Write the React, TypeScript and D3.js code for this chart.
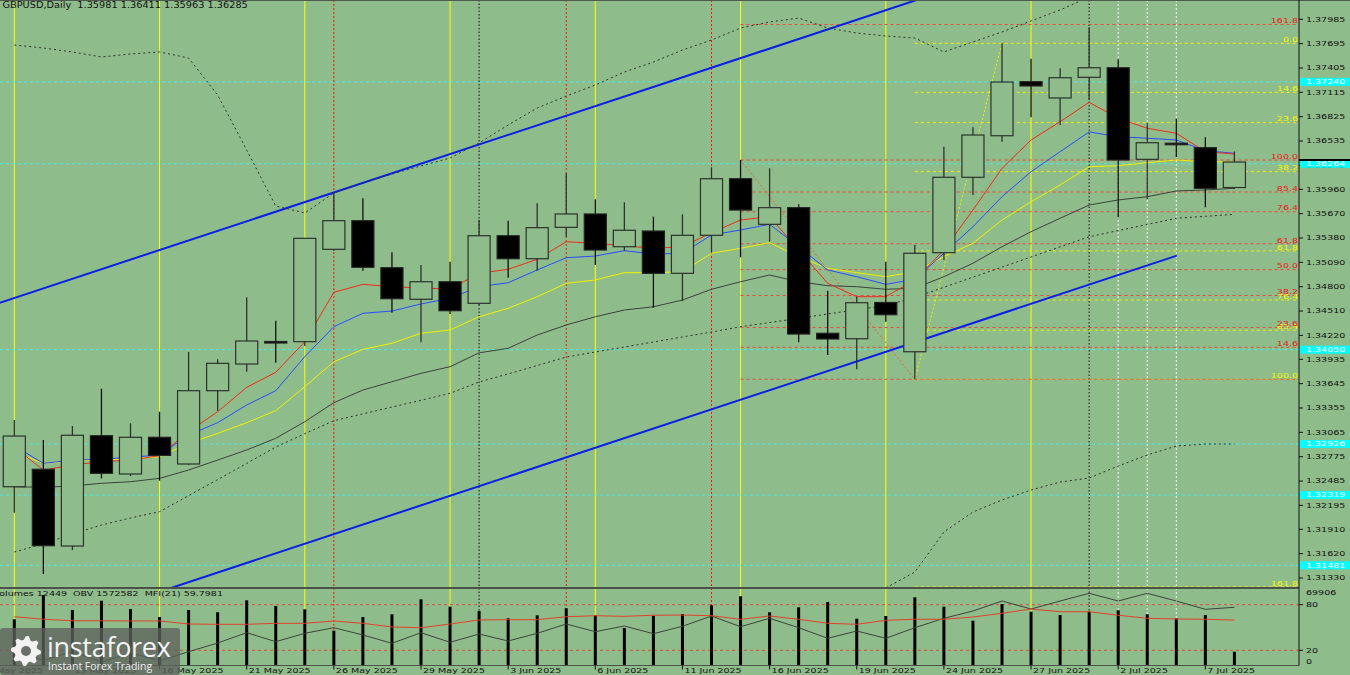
import React from "react";
import * as d3 from "d3";

// ---------------- data ----------------
const dates = ["9 May","12 May","13 May","14 May","15 May","16 May","19 May","20 May","21 May","22 May","23 May","26 May","27 May","28 May","29 May","30 May","2 Jun","3 Jun","4 Jun","5 Jun","6 Jun","9 Jun","10 Jun","11 Jun","12 Jun","13 Jun","16 Jun","17 Jun","18 Jun","19 Jun","20 Jun","23 Jun","24 Jun","25 Jun","26 Jun","27 Jun","30 Jun","1 Jul","2 Jul","3 Jul","4 Jul","7 Jul","8 Jul"];
const axisDateLabels = ["8 May 2025","13 May 2025","16 May 2025","21 May 2025","26 May 2025","29 May 2025","3 Jun 2025","6 Jun 2025","11 Jun 2025","16 Jun 2025","19 Jun 2025","24 Jun 2025","27 Jun 2025","2 Jul 2025","7 Jul 2025"];

const open = [1.32417,1.32625,1.31711,1.33025,1.32569,1.33006,1.32688,1.33561,1.33879,1.34147,1.34145,1.35245,1.35586,1.35026,1.34650,1.34859,1.34602,1.35407,1.35133,1.35507,1.35666,1.35276,1.35463,1.34959,1.35412,1.36086,1.35543,1.35741,1.34245,1.34180,1.34612,1.34025,1.35205,1.36103,1.36598,1.37242,1.37048,1.37294,1.37408,1.36317,1.36509,1.36456,1.35981];
const high = [1.33212,1.32974,1.33140,1.33585,1.33173,1.33311,1.34022,1.33935,1.34674,1.34395,1.35380,1.35920,1.35853,1.35210,1.35058,1.35098,1.35594,1.35586,1.35793,1.36151,1.35841,1.35805,1.35634,1.35662,1.36222,1.36309,1.36210,1.35781,1.34752,1.34681,1.35098,1.35297,1.36467,1.36699,1.37699,1.37516,1.37401,1.37890,1.37509,1.36746,1.36801,1.36579,1.36411];
const low = [1.32108,1.31377,1.31663,1.32517,1.32545,1.32489,1.32676,1.33323,1.33787,1.33894,1.34093,1.35229,1.34990,1.34490,1.34137,1.34475,1.34582,1.34907,1.34990,1.35395,1.35058,1.35229,1.34550,1.34629,1.35210,1.35150,1.35336,1.34137,1.33986,1.33816,1.34383,1.33697,1.35118,1.35892,1.36527,1.36818,1.36726,1.37024,1.35626,1.35844,1.36341,1.35746,1.35963];
const close = [1.33021,1.31715,1.33030,1.32577,1.33006,1.32791,1.33561,1.33887,1.34153,1.34142,1.35376,1.35586,1.35031,1.34657,1.34859,1.34514,1.35407,1.35133,1.35503,1.35666,1.35237,1.35472,1.34959,1.35412,1.36086,1.35713,1.35741,1.34236,1.34177,1.34609,1.34466,1.35198,1.36103,1.36607,1.37238,1.37191,1.37289,1.37408,1.36309,1.36515,1.36505,1.35972,1.36285];

const volume = [41677,63598,50067,58456,50969,43752,50067,47992,58817,53675,50698,31393,43752,46188,59719,53043,49164,42579,45285,51600,45285,33829,44925,46458,54306,62425,47992,52502,57283,42218,44654,61523,53043,40414,55479,48533,45556,48533,49796,46188,42579,45556,12449];

const maRed = [1.32890,1.32616,1.32676,1.32715,1.32735,1.32787,1.33073,1.33311,1.33601,1.33780,1.34145,1.34733,1.34828,1.34800,1.34784,1.34772,1.34959,1.35007,1.35126,1.35336,1.35317,1.35288,1.35257,1.35276,1.35443,1.35594,1.35634,1.35237,1.34840,1.34681,1.34681,1.34880,1.35237,1.35713,1.36210,1.36547,1.36765,1.36996,1.36806,1.36687,1.36627,1.36408,1.36380];
const maBlue = [1.32902,1.32696,1.32735,1.32744,1.32768,1.32795,1.33033,1.33180,1.33391,1.33561,1.33966,1.34323,1.34483,1.34510,1.34594,1.34662,1.34800,1.34847,1.34999,1.35145,1.35165,1.35229,1.35189,1.35198,1.35416,1.35475,1.35543,1.35276,1.34999,1.34919,1.34828,1.34888,1.35198,1.35514,1.35872,1.36170,1.36408,1.36643,1.36587,1.36568,1.36547,1.36420,1.36389];
const maYellow = [1.32831,1.32696,1.32727,1.32735,1.32751,1.32775,1.32934,1.33053,1.33180,1.33323,1.33609,1.33906,1.34054,1.34126,1.34245,1.34284,1.34442,1.34542,1.34681,1.34840,1.34880,1.34967,1.34967,1.34978,1.35198,1.35257,1.35324,1.35157,1.35019,1.34967,1.34919,1.34978,1.35157,1.35317,1.35594,1.35812,1.36011,1.36229,1.36241,1.36277,1.36309,1.36289,1.36285];
const maGray = [1.32417,1.32410,1.32426,1.32458,1.32477,1.32517,1.32616,1.32735,1.32855,1.32994,1.33192,1.33418,1.33569,1.33668,1.33768,1.33847,1.34012,1.34066,1.34224,1.34344,1.34442,1.34522,1.34561,1.34641,1.34769,1.34859,1.34939,1.34859,1.34812,1.34800,1.34769,1.34781,1.34919,1.35079,1.35276,1.35455,1.35615,1.35773,1.35833,1.35872,1.35940,1.35952,1.35972];
// dotted envelope (starts at first candle)
const bandUpper = [1.37679,1.37643,1.37596,1.37536,1.37572,1.37596,1.37524,1.37083,1.36428,1.35761,1.35678,1.35916,1.36035,1.36142,1.36238,1.36333,1.36512,1.36726,1.36928,1.37071,1.37202,1.37357,1.37476,1.37619,1.37738,1.37881,1.37953,1.38000,1.37881,1.37822,1.37786,1.37762,1.37596,1.37715,1.37834,1.37965,1.38096,1.38251];
const bandLower = [1.31640,1.31735,1.31854,1.31961,1.32045,1.32120,1.32311,1.32502,1.32695,1.32890,1.33049,1.33204,1.33285,1.33366,1.33447,1.33530,1.33665,1.33761,1.33861,1.33962,1.34022,1.34081,1.34141,1.34201,1.34260,1.34323,1.34373,1.34423,1.34475,1.34525,1.34576,1.34672,1.34793,1.34913,1.35033,1.35154,1.35274,1.35395,1.35468,1.35541,1.35615,1.35638,1.35662];
// wide lower envelope, starts at candle 30
const bandLowerWideStart = 30;
const bandLowerWide = [1.31211,1.31401,1.31878,1.32116,1.32259,1.32378,1.32473,1.32521,1.32664,1.32795,1.32902,1.32926,1.32926];

const mfi = [64.2,60.8,58.9,58.9,58.6,58.6,54.6,54.2,54.2,55.5,55.5,58.6,55.5,50.7,49.7,54.6,59.9,60.3,60.3,64.2,65.5,64.7,66.1,66.4,65.5,60.8,65.1,60.8,55.5,54.2,59.5,60.8,60.8,63.8,68.7,74.3,70.8,70.8,66.1,62.1,61.2,60.8,59.8];
const obv = [1343200,1279400,1329500,1271200,1322300,1278300,1328400,1376200,1432900,1383400,1429600,1460400,1420200,1374600,1432900,1380100,1425700,1387200,1429600,1480700,1438400,1469700,1427400,1468100,1524700,1465900,1512100,1460400,1402100,1442200,1402100,1460400,1512100,1552200,1607200,1563200,1607200,1649600,1607200,1649600,1607200,1561600,1572582];

const priceTicks = ["1.37985","1.37695","1.37405","1.37115","1.36825","1.36535","1.36245","1.35960","1.35670","1.35380","1.35090","1.34800","1.34510","1.34220","1.33935","1.33645","1.33355","1.33065","1.32775","1.32485","1.32195","1.31910","1.31620","1.31330"];
const markedLevels = ["1.37240","1.36264","1.34050","1.32926","1.32319","1.31481"];

const redFibLevels = [161.8,100,85.4,76.4,61.8,50,38.2,23.6,14.6,0];
const yellowFibLevels = [0,14.6,23.6,38.2,61.8,76.4,85.4,100,161.8];
const redFib = { from: 25, to: 31, high: 1.36309, low: 1.33697 };
const yellowFib = { from: 31, to: 34, low: 1.33697, high: 1.37699 };

const yellowVLines = [0,5,10,15,20,25,30,35];
const redVLines = [11,19,24];
const blackVLines = [16,37];
const whiteVLines = [38,39,40];

const channelUpper: [number, number][] = [[-1,1.34551],[32,1.38322]];
const channelLower: [number, number][] = [[5,1.31166],[40.02,1.35170]];
const bidPrice = 1.3631;

const header = "GBPUSD,Daily  1.35981 1.36411 1.35963 1.36285";
const indHeader = "Volumes 12449  OBV 1572582  MFI(21) 59.7981";
const volMax = 69906;
const mfiLevels = [80, 20];

// ---------------- layout ----------------
const W = 1350, H = 675;
const AX = 1299;
const MAIN_B = 587;
const IND_T = 589.5, IND_B = 665.5;
const BG = "#8FBC8B";
const FONT = "DejaVu Sans, Verdana, sans-serif";

function Txt({ x, y, children, anchor = "start", fill = "#111", size = 7.8 }: any) {
  return (
    <text transform={`translate(${x},${y}) scale(1.22,1)`} fontSize={size} fill={fill}
      textAnchor={anchor} dominantBaseline="middle" fontFamily={FONT} style={{ whiteSpace: "pre" }}>
      {children}
    </text>
  );
}

export default function App() {
  const n = close.length;
  const x = d3.scaleLinear().domain([0, n - 1]).range([14.3, 1234.4]);
  const y = d3.scaleLinear().domain([1.3133, 1.37985]).range([578, 19.3]);
  const yv = d3.scaleLinear().domain([0, volMax]).range([IND_B, 588]);
  const ym = d3.scaleLinear().domain([0, 100]).range([IND_B, IND_T]);
  const yo = d3.scaleLinear().domain([1252500, 1670500]).range([IND_B, IND_T]);
  const step = x(1) - x(0);
  const bw = step * 0.76;

  const mkLine = (vals: number[], start = 0, ys = y) =>
    d3.line<number>().x((_, i) => x(i + start)).y((d) => ys(d))(vals) || "";
  const segLine = (pts: [number, number][]) =>
    d3.line<[number, number]>().x((d) => x(d[0])).y((d) => y(d[1]))(pts) || "";

  // gear for logo
  const gearPts: [number, number][] = [];
  for (let k = 0; k < 32; k++) {
    const a = (k / 32) * Math.PI * 2;
    const r = Math.floor(k / 2) % 2 === 0 ? 15 : 11.5;
    gearPts.push([26 + r * Math.cos(a), 651 + r * Math.sin(a)]);
  }
  const gearPath = d3.line()(gearPts) + "Z";

  return (
    <svg width={W} height={H} style={{ position: "absolute", left: 0, top: 0, display: "block" }}>
      <defs>
        <clipPath id="clipMain"><rect x={0} y={0} width={AX} height={MAIN_B} /></clipPath>
        <clipPath id="clipInd"><rect x={0} y={IND_T - 2} width={AX} height={IND_B - IND_T + 2} /></clipPath>
      </defs>
      <rect x={0} y={0} width={W} height={H} fill={BG} />

      {/* vertical marker lines (full height) */}
      {yellowVLines.map((i) => (
        <line key={"yv" + i} x1={x(i)} x2={x(i)} y1={0} y2={IND_B} stroke="#ffff00" strokeWidth={1} />
      ))}
      {redVLines.map((i) => (
        <line key={"rv" + i} x1={x(i)} x2={x(i)} y1={0} y2={IND_B} stroke="#ff1010" strokeWidth={1} strokeDasharray="2 2" />
      ))}
      {blackVLines.map((i) => (
        <line key={"bv" + i} x1={x(i)} x2={x(i)} y1={0} y2={IND_B} stroke="#101010" strokeWidth={1} strokeDasharray="1.5 2" />
      ))}
      {whiteVLines.map((i) => (
        <line key={"wv" + i} x1={x(i)} x2={x(i)} y1={0} y2={IND_B} stroke="#f4f4f4" strokeWidth={1} strokeDasharray="2 2" />
      ))}

      <g clipPath="url(#clipMain)">
        {/* cyan marked levels */}
        {markedLevels.map((s) => (
          <line key={"cl" + s} x1={0} x2={AX} y1={y(+s)} y2={y(+s)} stroke="#40f0f0" strokeWidth={1} strokeDasharray="3 3" />
        ))}
        {/* yellow fib */}
        {yellowFibLevels.map((l) => {
          const p = yellowFib.high - ((yellowFib.high - yellowFib.low) * l) / 100;
          return <line key={"yf" + l} x1={x(yellowFib.from)} x2={AX} y1={y(p)} y2={y(p)} stroke="#f0f000" strokeWidth={1} strokeDasharray="3 3" />;
        })}
        {/* red fib */}
        {redFibLevels.map((l) => {
          const p = redFib.low + ((redFib.high - redFib.low) * l) / 100;
          return <line key={"rf" + l} x1={x(redFib.from)} x2={AX} y1={y(p)} y2={y(p)} stroke="#e8483a" strokeWidth={1} strokeDasharray="3 3" />;
        })}
        {/* fib diagonals */}
        <line x1={x(redFib.from)} y1={y(redFib.high)} x2={x(redFib.to)} y2={y(redFib.low)} stroke="#e8603a" strokeWidth={1} strokeDasharray="2 2" />
        <line x1={x(yellowFib.from)} y1={y(yellowFib.low)} x2={x(yellowFib.to)} y2={y(yellowFib.high)} stroke="#f0f000" strokeWidth={1} strokeDasharray="2 2" />

        {/* channel */}
        <path d={segLine(channelUpper)} stroke="#0a1ee6" strokeWidth={2} fill="none" />
        <path d={segLine(channelLower)} stroke="#0a1ee6" strokeWidth={2} fill="none" />

        {/* envelopes */}
        <path d={mkLine(bandUpper)} stroke="#2a322a" strokeWidth={1} fill="none" strokeDasharray="2 3" />
        <path d={mkLine(bandLower)} stroke="#2a322a" strokeWidth={1} fill="none" strokeDasharray="2 3" />
        <path d={mkLine(bandLowerWide, bandLowerWideStart)} stroke="#2a322a" strokeWidth={1} fill="none" strokeDasharray="2 3" />

        {/* moving averages */}
        <path d={mkLine(maGray)} stroke="#39433a" strokeWidth={1} fill="none" />
        <path d={mkLine(maYellow)} stroke="#f2f200" strokeWidth={1} fill="none" />
        <path d={mkLine(maBlue)} stroke="#2a4cff" strokeWidth={1} fill="none" />
        <path d={mkLine(maRed)} stroke="#f02a1a" strokeWidth={1} fill="none" />

        {/* candles */}
        {close.map((c, i) => {
          const o = open[i];
          const up = c >= o;
          const top = y(Math.max(o, c));
          const bot = y(Math.min(o, c));
          const h = Math.max(bot - top, 1.5);
          return (
            <g key={"c" + i}>
              <line x1={x(i)} x2={x(i)} y1={y(high[i])} y2={y(low[i])} stroke={up ? "#2c322c" : "#111"} strokeWidth={1.3} />
              <rect x={x(i) - bw / 2} y={top} width={bw} height={h}
                fill={up ? BG : "#000"} stroke={up ? "#2c322c" : "#222"} strokeWidth={1.2} />
            </g>
          );
        })}
      </g>

      {/* indicator panel */}
      <g clipPath="url(#clipInd)">
        {mfiLevels.map((l) => (
          <line key={"ml" + l} x1={0} x2={AX} y1={ym(l)} y2={ym(l)} stroke="#e04a3a" strokeWidth={1} strokeDasharray="3 3" />
        ))}
        {volume.map((v, i) => (
          <rect key={"v" + i} x={x(i) - 1.5} y={yv(v)} width={3} height={yv(0) - yv(v)} fill="#000" />
        ))}
        <path d={mkLine(obv, 0, yo)} stroke="#3a453a" strokeWidth={1} fill="none" />
        <path d={mkLine(mfi, 0, ym)} stroke="#e0402a" strokeWidth={1} fill="none" />
      </g>

      {/* borders */}
      <line x1={0} x2={W} y1={0.5} y2={0.5} stroke="#505850" strokeWidth={1} />
      <line x1={0} x2={AX} y1={588} y2={588} stroke="#4a524a" strokeWidth={2} />
      <line x1={0} x2={AX} y1={IND_B} y2={IND_B} stroke="#4a524a" strokeWidth={1} />
      <line x1={AX} x2={AX} y1={0} y2={IND_B} stroke="#111" strokeWidth={1} />

      {/* price axis labels */}
      {priceTicks.map((s) => (
        <g key={"pt" + s}>
          <line x1={AX} x2={AX + 4} y1={y(+s)} y2={y(+s)} stroke="#111" />
          <Txt x={1306} y={y(+s)}>{s}</Txt>
        </g>
      ))}
      {markedLevels.map((s) => (
        <g key={"ml" + s}>
          <rect x={1300} y={y(+s) - 4} width={50} height={8} fill="#00ffff" />
          <Txt x={1306} y={y(+s)} fill="#ffffff">{s}</Txt>
        </g>
      ))}
      <line x1={AX} x2={W} y1={y(bidPrice)} y2={y(bidPrice)} stroke="#000" strokeWidth={2} />

      {/* fib labels */}
      {yellowFibLevels.map((l) => {
        const p = yellowFib.high - ((yellowFib.high - yellowFib.low) * l) / 100;
        return <Txt key={"yfl" + l} x={1298} y={y(p) - 3.5} anchor="end" fill="#f5f500">{l.toFixed(1)}</Txt>;
      })}
      {redFibLevels.filter((l) => l !== 0).map((l) => {
        const p = redFib.low + ((redFib.high - redFib.low) * l) / 100;
        return <Txt key={"rfl" + l} x={1298} y={y(p) - 3.5} anchor="end" fill="#f01818">{l.toFixed(1)}</Txt>;
      })}

      {/* indicator axis */}
      <Txt x={1306} y={yv(volMax) + 5}>{String(volMax)}</Txt>
      {mfiLevels.map((l) => (
        <g key={"mt" + l}>
          <line x1={AX} x2={AX + 4} y1={ym(l)} y2={ym(l)} stroke="#111" />
          <Txt x={1306} y={ym(l)}>{String(l)}</Txt>
        </g>
      ))}
      <Txt x={1306} y={ym(0) - 4}>0</Txt>

      {/* date axis */}
      {axisDateLabels.map((s, k) => {
        const xi = x(-1 + 3 * k);
        return (
          <g key={"d" + s}>
            <line x1={xi} x2={xi} y1={IND_B} y2={IND_B + 4} stroke="#111" />
            <Txt x={xi + 2} y={671}>{s}</Txt>
          </g>
        );
      })}

      {/* headers */}
      <Txt x={2.5} y={5.5} size={8}>{header}</Txt>
      <Txt x={-6.5} y={594} size={7.8}>{indHeader}</Txt>

      {/* logo */}
      <g>
        <rect x={0} y={628} width={180} height={47} rx={3} fill="#5e625e" opacity={0.78} />
        <path d={gearPath} fill="#f2f2f2" />
        <circle cx={26} cy={651} r={5} fill="#6a6e6a" />
        <text x={47} y={657} fontSize={27} fill="#f4f4f4" fontFamily="'Open Sans', sans-serif" style={{ letterSpacing: "-0.3px" }}>instaforex</text>
        <text x={48} y={670} fontSize={10.5} fill="#f0f0f0" fontFamily="'Open Sans', sans-serif">Instant Forex Trading</text>
      </g>
    </svg>
  );
}
